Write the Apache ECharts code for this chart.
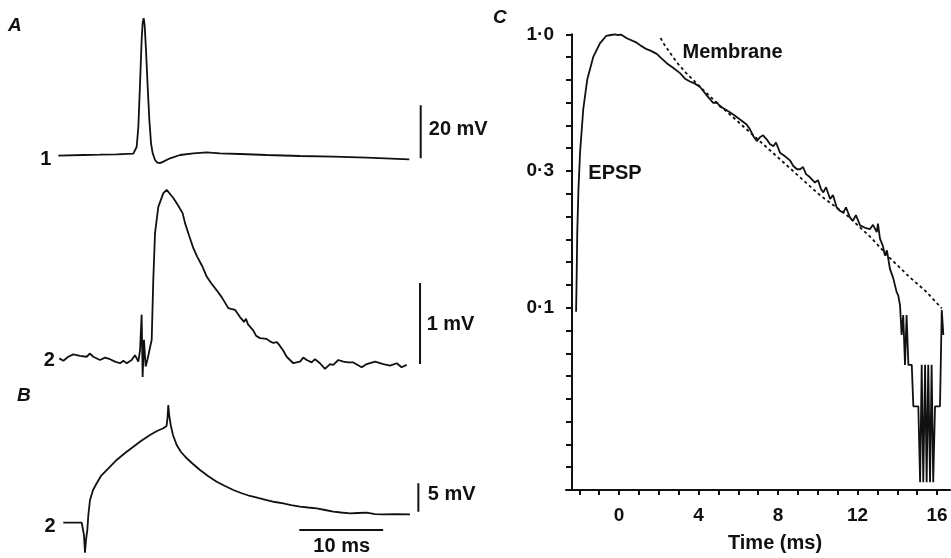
<!DOCTYPE html>
<html><head><meta charset="utf-8">
<script src="https://cdn.jsdelivr.net/npm/echarts@6/dist/echarts.min.js"></script>
<style>html,body{margin:0;padding:0;background:#fff}#c{width:951px;height:558px}</style>
</head><body><div id="c"></div>
<script>
// ---------- Panel A, trace 1 (action potential), time in ms, voltage in mV rel. baseline
const a1Time = [0.04,3.02,5.01,7.0,8.99,9.19,9.39,9.59,9.79,9.98,10.1,10.22,10.34,10.5,10.7,10.9,11.1,11.3,11.58,11.85,12.17,12.57,13.37,14.56,16.15,17.74,19.33,21.72,24.9,28.88,32.85,36.84,41.92];
const a1Volt = [-0.07,0.19,0.31,0.44,0.69,1.07,3.3,10.9,27.2,43.6,49.9,51.8,49.2,39.8,26.0,13.4,4.6,0.83,-1.7,-2.7,-2.9,-2.3,-1.06,0.19,0.83,1.2,0.83,0.57,0.19,-0.19,-0.45,-0.83,-1.43];
// ---------- Panel A, trace 2 (averaged EPSP)
const a2Time = [0.16,0.64,1.23,1.83,2.63,3.42,3.82,4.21,5.01,5.61,6.21,6.8,7.4,7.8,8.2,8.79,9.19,9.39,9.58,9.79,9.98,10.1,10.26,10.46,10.66,10.86,11.18,11.37,11.58,11.97,12.57,12.97,13.13,13.76,14.32,14.88,15.16,15.63,16.15,16.59,17.15,17.42,17.74,18.26,18.94,19.57,20.32,20.64,21.12,21.72,22.2,22.43,22.67,23.27,23.63,24.1,24.9,25.3,25.69,26.13,26.37,26.85,27.29,27.68,28.08,28.88,29.27,29.68,30.27,30.67,31.26,31.86,32.46,32.85,33.45,34.05,34.64,35.24,36.24,36.84,37.83,38.82,39.62,40.42,41.0,41.61];
const a2Volt = [0.02,-0.01,0.04,0.07,0.05,0.04,0.08,0.04,0,0.03,0.01,-0.02,-0.04,-0.01,-0.04,0,0.06,0.04,-0.02,0.12,0.56,-0.21,0.25,-0.08,0,-0.02,0.25,0.99,1.57,1.89,2.06,2.10,2.09,2.0,1.91,1.81,1.69,1.54,1.38,1.28,1.17,1.11,1.03,0.95,0.86,0.77,0.64,0.63,0.62,0.53,0.47,0.51,0.44,0.37,0.30,0.27,0.26,0.23,0.21,0.22,0.19,0.12,0.04,0,-0.04,-0.02,0.03,0,-0.03,0.01,-0.04,-0.11,-0.05,-0.06,0,-0.02,-0.03,-0.03,-0.09,-0.05,-0.02,-0.05,-0.07,-0.04,-0.09,-0.06];
// ---------- Panel B, trace 2
const bTime = [0.63,2.83,2.98,3.1,3.22,3.34,3.5,3.62,3.82,4.18,4.62,5.13,5.81,7.0,8.0,8.99,9.9,10.98,11.81,12.57,12.95,13.07,13.16,13.28,13.45,13.72,14.16,14.68,15.36,16.11,16.95,17.9,18.94,19.93,20.92,21.84,22.91,23.87,24.9,25.89,26.89,27.8,28.88,29.83,30.87,31.86,32.85,33.77,34.84,35.8,36.84,37.83,38.82,40.2,42.0];
const bVolt = [0,0,-0.23,-2.17,-5.29,-3.05,-1.29,1.36,4.0,5.77,6.95,8.24,9.29,11.06,12.29,13.4,14.41,15.47,16.17,16.65,17.05,18.47,20.76,18.82,17.23,15.47,13.7,12.47,11.36,10.35,9.29,8.24,7.23,6.47,5.77,5.24,4.71,4.36,4.0,3.65,3.42,3.12,2.82,2.68,2.54,2.24,1.94,1.8,1.66,1.71,1.76,1.53,1.48,1.53,1.48];
// ---------- Panel C: normalized EPSP (semi-log) and membrane decay
const cTime = [-2.16,-2.14,-2.10,-2.04,-1.96,-1.80,-1.60,-1.29,-0.96,-0.65,-0.40,-0.2,-0.05,0.1,0.39,0.89,1.11,1.39,1.61,1.9,2.11,2.4,2.72,3.07,3.32,3.57,3.82,4.08,4.38,4.74,4.93,5.08,5.38,5.75,6.09,6.42,6.59,6.76,6.93,7.09,7.25,7.43,7.6,7.77,7.9,8.1,8.35,8.6,8.77,8.96,9.11,9.26,9.41,9.61,9.86,10.01,10.16,10.28,10.42,10.62,10.77,10.95,11.12,11.29,11.42,11.62,11.77,11.92,12.13,12.38,12.63,12.78,12.97,13.03,13.13,13.28,13.38,13.48,13.63,13.8,13.97,14.05,14.14,14.22,14.3,14.39,14.47,14.56,14.73,14.81,15.06,15.15,15.23,15.31,15.4,15.48,15.56,15.65,15.73,15.81,15.9,16.15,16.24,16.32];
const cEpsp = [0.0967,0.117,0.189,0.271,0.369,0.531,0.682,0.829,0.927,0.986,0.994,1.0,0.994,0.998,0.967,0.932,0.907,0.882,0.870,0.848,0.820,0.784,0.754,0.721,0.688,0.672,0.660,0.642,0.602,0.561,0.563,0.545,0.530,0.509,0.488,0.468,0.449,0.424,0.407,0.420,0.427,0.413,0.396,0.390,0.402,0.369,0.358,0.346,0.330,0.321,0.321,0.327,0.308,0.300,0.287,0.293,0.272,0.264,0.276,0.250,0.258,0.233,0.226,0.223,0.233,0.214,0.208,0.218,0.200,0.196,0.194,0.201,0.189,0.203,0.179,0.168,0.155,0.162,0.139,0.128,0.114,0.111,0.102,0.0795,0.094,0.0618,0.094,0.0618,0.0618,0.0436,0.0436,0.023,0.0618,0.023,0.0618,0.023,0.0618,0.023,0.0618,0.023,0.0436,0.0436,0.098,0.0795];
const memTime = [2.09,2.26,2.47,2.67,2.97,3.37,3.82,4.33,5.08,6.09,7.09,8.1,9.11,10.11,11.46,12.63,13.63,14.64,15.4,16.24];
const memVal = [0.9695,0.922,0.877,0.834,0.780,0.723,0.671,0.617,0.548,0.472,0.406,0.349,0.300,0.258,0.218,0.182,0.152,0.129,0.1156,0.0994];
const cXTicks = [-2,-1,0,1,2,3,4,5,6,7,8,9,10,11,12,13,14,15,16];
const cXLabels = [0,4,8,12,16];
const cYLabelValues = [1.0,0.3,0.1];
const cYLabelTexts = ['1·0','0·3','0·1'];
// ---------- scale bars [time, from, to] and labels
const bar20mV = [43.28,-1,19];
const bar1mV = [43.2,-0.05,0.95];
const bar5mV = [43.0,1.95,6.95];
const bar10ms = [28.8,38.8,-1.29];

const FONT = 'Liberation Sans';
const INK = '#111';
const toAx = v => Math.round(12*Math.log10(v)*1000)/1000; // 12 ticks per decade
const pair = (xs, ys, f) => xs.map((x,i)=>[x, f ? f(ys[i]) : ys[i]]);

function hiddenAxes(n){ return {gridIndex:n, type:'value', show:false}; }
function txtSeries(xi, items){
  return {type:'scatter', xAxisIndex:xi, yAxisIndex:xi, clip:false, symbol:'circle', symbolSize:0,
    itemStyle:{color:INK}, silent:true,
    data: items.map(it=>({value:[it[0],it[1]], label:{show:true, position:'inside', formatter:it[2],
      color:INK, opacity:1, textBorderWidth:0, fontFamily:FONT, fontWeight:'bold', fontSize:it[3]||20}}))};
}
function lineS(xi, data, extra){
  return Object.assign({type:'line', xAxisIndex:xi, yAxisIndex:xi, data, symbol:'none', clip:false,
    lineStyle:{color:INK, width:1.8}, silent:true}, extra||{});
}

const chart = echarts.init(document.getElementById('c'), null, {renderer:'canvas'});
const yLabelMap = {};
cYLabelValues.forEach((v,i)=>{ yLabelMap[Math.round(12*Math.log10(v))] = cYLabelTexts[i]; });

chart.setOption({
  animation:false,
  backgroundColor:'#fff',
  grid:[
    {left:58, top:9.75, width:385.5, height:159},
    {left:58, top:173.7, width:385.5, height:210.6},
    {left:58, top:397.96, width:385.5, height:158.76},
    {left:566, top:34.3, width:384, height:459}
  ],
  xAxis:[
    Object.assign(hiddenAxes(0),{min:0,max:46}),
    Object.assign(hiddenAxes(1),{min:0,max:46}),
    Object.assign(hiddenAxes(2),{min:0,max:46}),
    {gridIndex:3, type:'value', min:-2.667, max:16.654,
      axisLine:{onZero:false, lineStyle:{color:INK, width:2}},
      axisTick:{customValues:cXTicks, length:5, lineStyle:{color:INK, width:2}},
      axisLabel:{customValues:cXLabels, color:INK, fontFamily:FONT, fontWeight:'bold', fontSize:19, margin:16},
      splitLine:{show:false},
      name:'Time (ms)', nameLocation:'middle', nameGap:43,
      nameTextStyle:{color:INK, fontFamily:FONT, fontWeight:'bold', fontSize:20, padding:[0,0,0,34]}}
  ],
  yAxis:[
    Object.assign(hiddenAxes(0),{min:-5,max:55}),
    Object.assign(hiddenAxes(1),{min:-0.3,max:2.3}),
    Object.assign(hiddenAxes(2),{min:-6,max:22}),
    {gridIndex:3, type:'value', min:-20, max:0, interval:1, offset:-6,
      axisLine:{show:true, onZero:false, lineStyle:{color:INK, width:2}},
      axisTick:{show:true, length:6, lineStyle:{color:INK, width:2}},
      axisLabel:{color:INK, fontFamily:FONT, fontWeight:'bold', fontSize:19, margin:18,
        formatter:v=>yLabelMap[Math.round(v)]||''},
      splitLine:{show:false}}
  ],
  graphic:[
    {type:'text', left:8, top:16, style:{text:'A', font:'italic bold 19px "Liberation Sans"', fill:INK}},
    {type:'text', left:17, top:386, style:{text:'B', font:'italic bold 19px "Liberation Sans"', fill:INK}},
    {type:'text', left:493, top:8, style:{text:'C', font:'italic bold 19px "Liberation Sans"', fill:INK}}
  ],
  series:[
    lineS(0, pair(a1Time,a1Volt)),
    lineS(1, pair(a2Time,a2Volt)),
    lineS(2, pair(bTime,bVolt)),
    lineS(3, pair(cTime,cEpsp,toAx)),
    lineS(3, pair(memTime,memVal,toAx), {lineStyle:{color:INK, width:1.8, type:[3,3]}}),
    // scale bars
    lineS(0, [[bar20mV[0],bar20mV[1]],[bar20mV[0],bar20mV[2]]], {lineStyle:{color:INK,width:2}}),
    lineS(1, [[bar1mV[0],bar1mV[1]],[bar1mV[0],bar1mV[2]]], {lineStyle:{color:INK,width:2}}),
    lineS(2, [[bar5mV[0],bar5mV[1]],[bar5mV[0],bar5mV[2]]], {lineStyle:{color:INK,width:2}}),
    lineS(2, [[bar10ms[0],bar10ms[2]],[bar10ms[1],bar10ms[2]]], {lineStyle:{color:INK,width:2}}),
    // text labels
    txtSeries(0, [[-1.46,-1.43,'1'],[47.76,9.74,'20 mV']]),
    txtSeries(1, [[-1.05,0,'2'],[46.84,0.44,'1 mV']]),
    txtSeries(2, [[-0.95,-0.58,'2'],[46.98,5.06,'5 mV'],[33.85,-4.23,'10 ms']]),
    txtSeries(3, [[-0.2,toAx(0.309),'EPSP'],[5.71,toAx(0.856),'Membrane']])
  ]
});
</script></body></html>
